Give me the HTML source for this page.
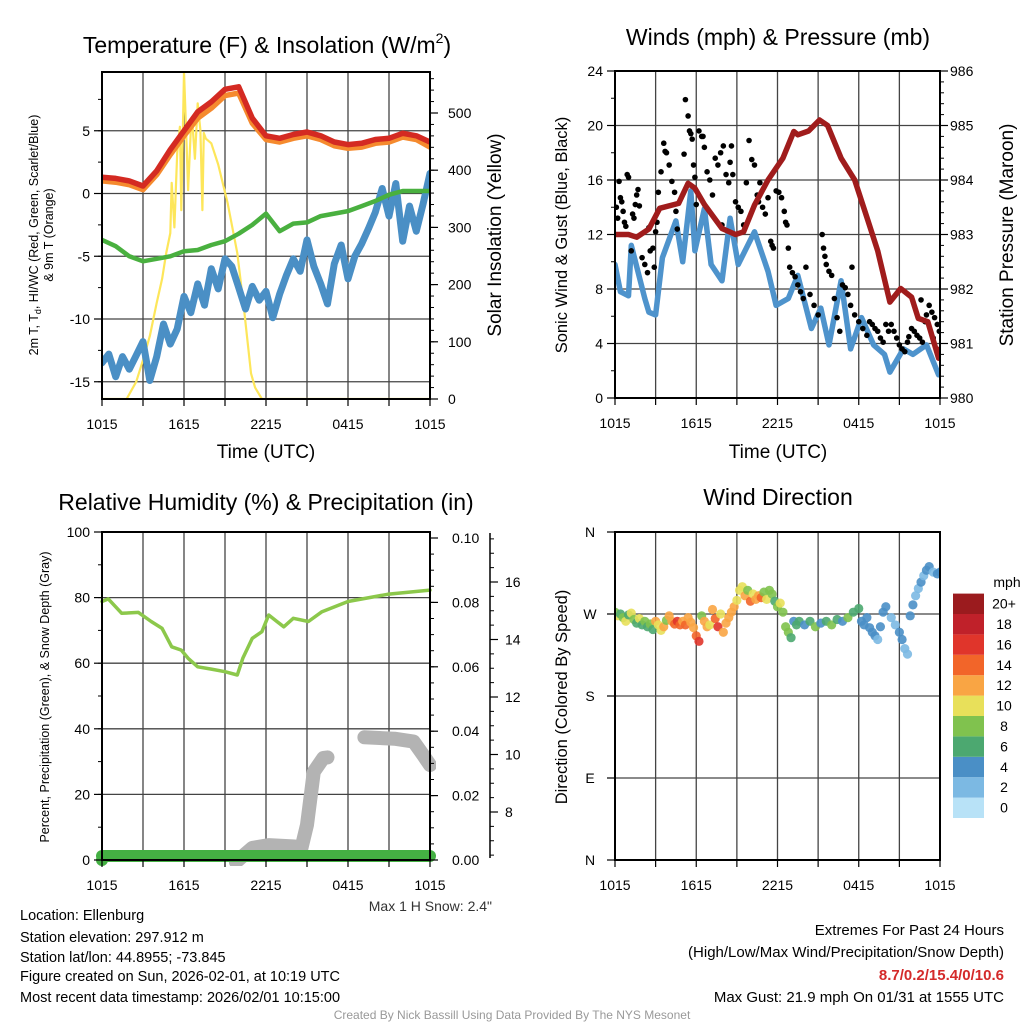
<!DOCTYPE html>
<html><head><meta charset="utf-8"><style>
html,body{margin:0;padding:0;background:#fff}
svg{display:block;font-family:"Liberation Sans",Arial,sans-serif}
</style></head><body>
<svg id="chart" xmlns="http://www.w3.org/2000/svg" width="1024" height="1024" viewBox="0 0 1024 1024">
<defs>
<clipPath id="c1"><rect x="102" y="72" width="328" height="327"/></clipPath>
<clipPath id="c2"><rect x="615" y="71" width="325" height="327"/></clipPath>
<clipPath id="c3"><rect x="96" y="532" width="340" height="334"/></clipPath>
<clipPath id="c4"><rect x="615" y="532" width="325" height="328"/></clipPath>
</defs>
<text x="267" y="53" font-size="23" text-anchor="middle">Temperature (F) &amp; Insolation (W/m<tspan font-size="14" dy="-10">2</tspan><tspan dy="10">)</tspan></text>
<text x="778" y="45" font-size="23" text-anchor="middle">Winds (mph) &amp; Pressure (mb)</text>
<text x="266" y="510" font-size="23" text-anchor="middle">Relative Humidity (%) &amp; Precipitation (in)</text>
<text x="778" y="505" font-size="23" text-anchor="middle">Wind Direction</text>
<text x="266" y="458" font-size="19" text-anchor="middle">Time (UTC)</text>
<text x="778" y="458" font-size="19" text-anchor="middle">Time (UTC)</text>
<text transform="translate(38,235) rotate(-90)" font-size="12.5" text-anchor="middle">2m T, T<tspan font-size="9" dy="3">d</tspan><tspan dy="-3">, HI/WC (Red, Green, Scarlet/Blue)</tspan></text>
<text transform="translate(53,235) rotate(-90)" font-size="12.5" text-anchor="middle">&amp; 9m T (Orange)</text>
<text transform="translate(501,235) rotate(-90)" font-size="19" text-anchor="middle">Solar Insolation (Yellow)</text>
<text transform="translate(567,235) rotate(-90)" font-size="16.5" text-anchor="middle">Sonic Wind &amp; Gust (Blue, Black)</text>
<text transform="translate(1013,235) rotate(-90)" font-size="19" text-anchor="middle">Station Pressure (Maroon)</text>
<text transform="translate(49,697) rotate(-90)" font-size="12.5" text-anchor="middle">Percent, Precipitation (Green), &amp; Snow Depth (Gray)</text>
<text transform="translate(567,697) rotate(-90)" font-size="16.5" text-anchor="middle">Direction (Colored By Speed)</text>
<text x="492" y="911" font-size="14" fill="#333" text-anchor="end">Max 1 H Snow: 2.4"</text>
<g font-size="14.5">
<text x="20" y="920">Location: Ellenburg</text>
<text x="20" y="942">Station elevation: 297.912 m</text>
<text x="20" y="962">Station lat/lon: 44.8955; -73.845</text>
<text x="20" y="981">Figure created on Sun, 2026-02-01, at 10:19 UTC</text>
<text x="20" y="1002">Most recent data timestamp: 2026/02/01 10:15:00</text>
</g>
<g font-size="15" text-anchor="end">
<text x="1004" y="935">Extremes For Past 24 Hours</text>
<text x="1004" y="957">(High/Low/Max Wind/Precipitation/Snow Depth)</text>
<text x="1004" y="980" fill="#d42a2a" font-weight="bold">8.7/0.2/15.4/0/10.6</text>
<text x="1004" y="1002">Max Gust: 21.9 mph On 01/31 at 1555 UTC</text>
</g>
<text x="512" y="1019" font-size="12" fill="#999" text-anchor="middle">Created By Nick Bassill Using Data Provided By The NYS Mesonet</text>
</svg>
<script>
// ---------- DATA ----------
const timeTickLabels = ["1015","1615","2215","0415","1015"];
const tempTicks = [5,0,-5,-10,-15];
const insolTicks = [0,100,200,300,400,500];
const windTicks = [0,4,8,12,16,20,24];
const presTicks = [980,981,982,983,984,985,986];
const rhTicks = [0,20,40,60,80,100];
const precipTicks = [0.00,0.02,0.04,0.06,0.08,0.10];
const snowTicks = [8,10,12,14,16];
const dirTickLabels = ["N","E","S","W","N"];
const speedBinLabels = ["0","2","4","6","8","10","12","14","16","18","20+"];

const hourly = [0,1,2,3,4,5,6,7,8,9,10,11,12,13,14,15,16,17,18,19,20,21,22,23,24];
const tempRed = [1.3,1.2,1.0,0.6,1.8,3.5,5.0,6.5,7.3,8.3,8.5,6.0,4.6,4.4,4.7,4.9,4.6,4.1,3.9,4.0,4.3,4.4,4.8,4.6,4.1];
const tempOrange = [1.0,0.9,0.7,0.3,1.5,3.1,4.6,6.0,6.8,7.8,8.0,5.6,4.3,4.1,4.4,4.6,4.3,3.8,3.6,3.7,4.0,4.1,4.5,4.3,3.7];
const dewGreen = [-3.7,-4.2,-5.0,-5.4,-5.2,-5.0,-4.6,-4.5,-4.1,-3.8,-3.2,-2.5,-1.6,-3.0,-2.4,-2.3,-1.8,-1.6,-1.4,-1.0,-0.6,-0.1,0.2,0.2,0.2];
const halfHours = [0,0.5,1,1.5,2,2.5,3,3.5,4,4.5,5,5.5,6,6.5,7,7.5,8,8.5,9,9.5,10,10.5,11,11.5,12,12.5,13,13.5,14,14.5,15,15.5,16,16.5,17,17.5,18,18.5,19,19.5,20,20.5,21,21.5,22,22.5,23,23.5,24];
const windChill = [-13.5,-12.8,-14.6,-13.0,-14.0,-12.9,-11.8,-14.9,-13.0,-10.4,-12.0,-10.8,-8.2,-9.5,-7.2,-8.9,-6.0,-7.6,-5.2,-5.8,-7.5,-9.2,-7.4,-8.5,-7.8,-9.9,-8.0,-6.5,-5.2,-6.2,-3.7,-5.8,-7.2,-8.8,-5.6,-4.1,-6.8,-5.0,-4.0,-2.8,-1.5,0.4,-1.8,0.8,-3.8,-1.0,-3.0,-0.8,1.6];
const insolHours = [0,1.8,2.5,3.0,3.5,4.0,4.4,4.7,5.0,5.1,5.3,5.5,5.7,5.8,6.0,6.2,6.3,6.5,6.6,6.8,7.0,7.2,7.35,7.45,7.6,8.0,8.5,9.2,9.9,10.4,10.9,11.2,11.7,24];
const insolValues = [0,0,30,68,110,168,210,255,290,378,300,430,476,330,572,440,365,470,488,420,517,470,330,465,455,447,410,342,255,156,45,20,0,0];

const presHours = [0,1.0,1.6,2.5,3.3,4.7,5.4,5.9,6.6,7.9,8.9,9.5,10.3,11.3,12.4,13.2,13.5,14.3,15.1,15.7,16.7,17.7,18.7,19.4,20.3,21.1,21.9,22.4,23.1,23.9,24];
const presValues = [983.0,983.0,982.95,983.1,983.48,983.57,983.94,983.85,983.55,983.11,983.0,983.05,983.54,984.0,984.4,984.89,984.83,984.9,985.1,985.0,984.4,984.0,983.24,982.7,981.76,982.01,981.85,981.46,981.4,980.73,980.9];
const windHours = [0,0.4,1.0,1.2,2.2,2.5,3.0,3.5,4.5,5.0,5.6,5.9,6.6,7.1,7.9,8.5,9.1,10.3,11.3,11.9,12.8,13.5,14.5,15.2,15.8,16.7,17.4,18.2,19.1,19.9,20.3,21.3,22.0,23.0,23.9];
const windSpeeds = [9.8,7.8,7.5,11.2,7.3,6.3,6.1,10.3,13.0,10.0,15.2,10.8,13.9,9.8,8.6,13.2,9.8,12.2,9.3,6.8,7.3,9.0,5.1,6.6,3.9,8.6,3.6,5.9,3.9,3.2,1.9,3.6,3.2,3.9,1.7];
const gustHours = [0.1,0.2,0.3,0.4,0.5,0.6,0.7,0.8,0.9,1.0, 1.2,1.3,1.4,1.5,1.6,1.7,1.8, 2.0,2.2,2.4,2.6,2.8,3.0,3.1,3.2,2.5,2.9, 3.4,3.6,3.8,4.0,4.2,4.4,4.5,4.6,3.7, 5.2,5.4,5.5,5.6,5.7,5.8,5.9,6.0,5.1, 6.2,6.4,6.6,6.8,7.0,7.2,6.5, 7.4,7.6,7.8,8.0,8.2,8.4,8.5,8.6,8.7,7.9, 8.9,9.1,9.3,9.5,9.7, 9.9,10.1,10.3,10.5,10.6,10.7, 10.9,11.1,11.3,11.5,11.6,11.7, 11.9,12.1,12.3,12.5,12.6,12.7,12.8,12.9, 13.1,13.3,13.5,13.7,13.9,14.1,14.4,14.7,15.0, 15.3,15.4,15.5,15.6,15.8,16.0,16.2,16.4,16.6, 16.8,17.0,17.2,17.4,17.7,18.0,18.3,17.5,18.6, 18.8,19.0,19.2,19.4,19.6,19.8,20.0,20.2, 20.4,20.6,20.8,21.0,21.2,21.4,21.6,21.7, 21.9,22.1,22.3,22.5,22.7,22.9,23.0,22.6, 23.2,23.4,23.6,23.8,23.95,23.5];
const gustSpeeds = [14.0,13.2,15.9,14.7,14.4,13.7,12.9,12.6,16.4,16.2, 10.8,13.5,13.2,14.2,14.9,15.3,14.1, 10.3,9.8,9.2,10.8,11.0,12.2,12.9,15.1,12.5,9.6, 16.6,18.7,18.0,17.1,15.9,15.1,13.7,12.4,18.1, 21.9,20.7,19.6,19.4,19.0,17.1,16.2,14.2,17.9, 19.6,19.2,18.4,16.6,16.0,14.9,19.2, 17.6,17.1,18.0,18.5,16.4,15.8,17.3,18.5,16.4,12.7, 14.4,14.0,13.7,12.7,15.8, 18.9,17.5,17.1,14.9,14.4,15.8, 14.0,13.5,14.7,11.5,11.2,11.0, 15.2,15.1,14.7,13.7,12.9,12.7,11.0,9.6, 9.2,8.9,8.3,7.8,7.3,9.6,7.6,6.8,6.1, 12.0,11.0,10.4,9.8,9.3,9.0,7.3,5.9,4.9, 8.3,8.1,7.6,6.8,6.1,5.6,5.1,9.6,4.6, 5.6,5.4,5.1,4.9,4.4,4.1,5.4,4.9, 5.4,4.9,4.4,3.9,3.6,3.4,4.1,4.5, 5.1,4.9,4.6,4.4,4.1,5.6,6.1,7.2, 6.8,6.3,5.9,5.4,4.9,4.4];

const rhHours = [0,0.46,1.44,2.66,3.6,4.4,5.1,5.8,6.3,7.0,8.0,9.0,9.9,10.3,11.0,11.7,12.2,12.8,13.3,14.0,15.1,16.1,18.0,20.9,24];
const rhValues = [78.8,79.6,75.2,75.5,72.7,70.6,65.0,64.0,61.5,58.9,58.2,57.4,56.4,61.5,67.6,69.6,74.7,72.7,71.1,73.7,72.7,75.7,78.8,81.0,82.3];
const precipHours = [0,24];
const precipValues = [0,0];
const snowHours1 = [9.8,11.0,12.2,14.1,14.5,15.0,15.5,16.2,16.5];
const snowValues1 = [6.26,6.75,6.85,6.8,6.57,7.55,9.4,9.88,9.9];
const snowHours2 = [19.2,21.4,22.8,23.5,24];
const snowValues2 = [10.6,10.55,10.45,9.98,9.63];

const dirHours = [0.0,0.2,0.4,0.6,0.8,1.0,1.2,1.4,1.6,1.8,2.0,2.2,2.4,2.6,2.8,3.0,3.2,3.4,3.6,3.8,4.0,4.2,4.4,4.6,4.8,5.0,5.2,5.4,5.6,5.8,6.0,6.2,6.4,6.6,6.8,7.0,7.2,7.4,7.6,7.8,8.0,8.2,8.4,8.6,8.8,9.0,9.2,9.4,9.6,9.8,10.0,10.2,10.4,10.6,10.8,11.0,11.2,11.4,11.6,11.8,12.0,12.2,12.4,12.6,12.8,13.0,13.2,13.4,13.6,14.0,14.4,14.8,15.2,15.6,16.0,16.4,16.8,17.2,17.6,18.0,18.2,18.4,18.6,18.8,19.0,19.2,19.4,19.6,19.8,20.0,20.4,20.7,21.0,21.2,21.4,21.6,21.8,22.0,22.2,22.4,22.6,22.8,23.0,23.2,23.5,23.8,24.0];
const dirDegrees = [272,268,270,266,262,269,271,264,260,265,258,262,256,259,253,262,258,252,256,263,268,262,259,262,258,262,258,266,261,255,246,240,268,262,256,258,275,265,256,270,250,260,266,272,278,285,296,300,290,296,284,292,286,290,288,294,286,296,292,284,278,282,272,256,250,244,262,258,262,258,262,256,260,262,258,264,262,266,272,276,262,258,266,255,250,246,242,256,272,278,266,258,250,242,232,226,268,280,290,298,305,312,318,322,316,314,316];
const dirSpeeds = [8,10,7,8,10,7,10,8,6,10,7,8,6,8,7,12,10,10,12,8,12,12,14,16,14,12,14,12,12,12,14,16,8,12,12,10,12,14,16,10,12,12,12,12,12,10,10,10,12,8,14,10,12,12,14,8,10,8,8,6,8,10,8,8,8,6,4,6,6,4,6,8,4,6,8,6,4,8,6,6,4,4,4,4,4,4,2,4,4,4,2,2,4,4,2,2,4,4,2,2,4,2,4,4,2,4,4];

// ---------- SCALES ----------
const P1={x0:102,x1:430,y0:72,y1:399}, P2={x0:615,x1:940,y0:71,y1:398};
const P3={x0:102,x1:430,y0:532,y1:860}, P4={x0:615,x1:940,y0:532,y1:860};
const tx1=h=>P1.x0+h*(P1.x1-P1.x0)/24;
const tx2=h=>P2.x0+h*(P2.x1-P2.x0)/24;
const tempY=v=>193.5-v*12.55;
const insolY=v=>399-v*0.572;
const windY=v=>398-v*(327/24);
const presY=p=>398-(p-980)*(327/6);
const rhY=v=>860-v*3.28;
const precipY=v=>860-v*3220;
const snowY=v=>812-(v-8)*28.75;
const dirY=d=>860-d*328/360;
const binColors=["#b8e2f7","#7cb9e3","#4a8fc6","#4ca870","#80c24e","#e8e05a","#f9a544","#f26529","#e0352b","#c0212a","#9b1b1e"];

const NS='http://www.w3.org/2000/svg';
const svg=document.getElementById('chart');
function mk(tag,attrs,parent){const e=document.createElementNS(NS,tag);for(const k in attrs)e.setAttribute(k,attrs[k]);(parent||svg).appendChild(e);return e;}
function line(x1,y1,x2,y2,stroke,w,name){const e=mk('line',{x1:x1,y1:y1,x2:x2,y2:y2,stroke:stroke,'stroke-width':w});


return e;}
function txt(x,y,s,anchor,size,name){const e=mk('text',{x:x,y:y,'font-size':size,'text-anchor':anchor});e.textContent=s;


return e;}
function series(xs,ys,fx,fy,color,w,clip,name,op){const g=mk('path',{d:xs.map((h,i)=>(i?'L':'M')+fx(h).toFixed(1)+','+fy(ys[i]).toFixed(1)).join(''),fill:'none',stroke:color,'stroke-width':w,'stroke-linejoin':'round','stroke-linecap':'round','clip-path':'url(#'+clip+')',opacity:op||1});


return g;}

// grids
function vgrid(P,fx){for(let h=3;h<24;h+=3){line(fx(h),P.y0,fx(h),P.y1,'#444',1.3,'vertical-gridline');}}
vgrid(P1,tx1);vgrid(P2,tx2);vgrid(P3,tx1);vgrid(P4,tx2);
tempTicks.forEach(v=>line(P1.x0,tempY(v),P1.x1,tempY(v),'#444',1.3,'temp-gridline'));
[4,8,12,16,20].forEach(v=>line(P2.x0,windY(v),P2.x1,windY(v),'#444',1.3,'wind-gridline'));
[20,40,60,80].forEach(v=>line(P3.x0,rhY(v),P3.x1,rhY(v),'#444',1.3,'rh-gridline'));
[90,180,270].forEach(d=>line(P4.x0,dirY(d),P4.x1,dirY(d),'#444',1.3,'direction-gridline'));

// panel 1 series
series(insolHours,insolValues,tx1,insolY,'#fde65a',2.2,'c1','insolation-line');
series(halfHours,windChill,tx1,tempY,'#4a8fc5',7,'c1','wind-chill-line');
series(hourly,dewGreen,tx1,tempY,'#49b03f',4.5,'c1','dewpoint-line');
series(hourly,tempOrange,tx1,tempY,'#f58a2e',5.5,'c1','temp-9m-line');
series(hourly,tempRed,tx1,tempY,'#d42a22',5.5,'c1','temp-2m-line');

// panel 2 series
series(windHours,windSpeeds,tx2,windY,'#4e93cc',5.5,'c2','sonic-wind-line');
gustHours.forEach((h,i)=>{const c=mk('circle',{cx:tx2(h),cy:windY(gustSpeeds[i]),r:2.8,fill:'#000','clip-path':'url(#c2)'});


});
series(presHours,presValues,tx2,presY,'#a01c1c',5.5,'c2','pressure-line');

// panel 3 series
series(snowHours1,snowValues1,tx1,snowY,'#b3b3b3',14,'c3','snow-depth-line');
series(snowHours2,snowValues2,tx1,snowY,'#b3b3b3',14,'c3','snow-depth-line-2');
series(rhHours,rhValues,tx1,rhY,'#8cc84b',3.5,'c3','humidity-line');
series(precipHours,precipValues,tx1,v=>precipY(v)-4,'#44b043',12,'c3','precipitation-line');
const pd=mk('circle',{cx:tx1(precipHours[0]),cy:precipY(precipValues[0]),r:6,fill:'#44b043'});



// panel 4 dots
dirHours.forEach((h,i)=>{const c=mk('circle',{cx:tx2(h),cy:dirY(dirDegrees[i]),r:4.6,fill:binColors[Math.min(10,Math.floor(dirSpeeds[i]/2))],opacity:0.9,'clip-path':'url(#c4)'});


});

// boxes
[P1,P2,P3,P4].forEach(P=>{const r=mk('rect',{x:P.x0,y:P.y0,width:P.x1-P.x0,height:P.y1-P.y0,fill:'none',stroke:'#000','stroke-width':2});


});

// time ticks
[[P1,tx1],[P2,tx2],[P3,tx1],[P4,tx2]].forEach(([P,fx])=>{
 for(let h=0;h<=24;h+=3){line(fx(h),P.y1,fx(h),P.y1+7,'#000',1.2,'x-tick');}
 timeTickLabels.forEach((s,i)=>txt(fx(i*6),P.y1+30,s,'middle',14,'x-tick-label'));
});
// left/right axes ticks
function yTicks(xAxis,dir,ticks,fy,fmt,minorStep,lo,hi,labelOff,name){
 ticks.forEach(v=>{line(xAxis,fy(v),xAxis+dir*8,fy(v),'#000',1.2,name+'-tick');
  txt(xAxis+dir*labelOff,fy(v)+5,fmt(v),dir<0?'end':'start',14,name+'-label');});
 if(minorStep){for(let v=lo;v<=hi+1e-9;v+=minorStep){line(xAxis,fy(v),xAxis+dir*4,fy(v),'#000',1,name+'-minor-tick');}}
}
yTicks(P1.x0,-1,tempTicks,tempY,v=>String(v),2.5,-15,7.5,12,'temp-axis');
yTicks(P1.x1,1,insolTicks,insolY,v=>String(v),20,0,560,18,'insolation-axis');
yTicks(P2.x0,-1,windTicks,windY,v=>String(v),2,0,24,12,'wind-axis');
yTicks(P2.x1,1,presTicks,presY,v=>String(v),0.2,980,986,10,'pressure-axis');
yTicks(P3.x0,-1,rhTicks,rhY,v=>String(v),10,0,100,12,'rh-axis');
yTicks(P3.x1,1,precipTicks,precipY,v=>v.toFixed(2),0.005,0,0.10,22,'precip-axis');
line(490,533,490,858,'#000',1.5,'snow-axis-line');
yTicks(490,1,snowTicks,snowY,v=>String(v),0.5,6.5,17.5,15,'snow-axis');
dirTickLabels.forEach((s,i)=>{line(P4.x0,dirY(i*90),P4.x0-8,dirY(i*90),'#000',1.2,'direction-tick');
 txt(P4.x0-25,dirY(i*90)+5,s,'middle',14,'direction-label');});

// colorbar
txt(1007,587,'mph','middle',14,'colorbar-title');
speedBinLabels.forEach((s,i)=>{const y=818-(i+1)*20.4;
 const r=mk('rect',{x:953,y:y,width:31,height:20.4,fill:binColors[i]});
 
 
 txt(1004,y+15,s,'middle',14,'colorbar-label');});
</script>
</body></html>
